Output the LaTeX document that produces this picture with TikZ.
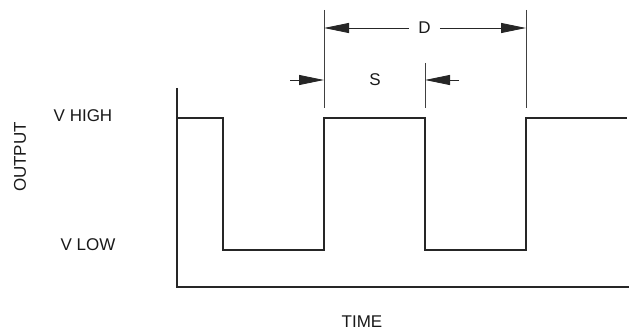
\documentclass[tikz,border=0pt]{standalone}
\usepackage{fontspec}
\setmainfont{Liberation Sans}
\usetikzlibrary{arrows.meta}
\begin{document}
\begin{tikzpicture}[x=1pt,y=-1pt,
  lbl/.style={font=\fontsize{17}{20}\selectfont,inner sep=0pt,text=black!90},
  wave/.style={line width=1.4pt,black!85,line join=miter},
  axis/.style={line width=1.9pt,black!85},
  ext/.style={line width=0.9pt,black!75},
  dim/.style={line width=0.9pt,black!85,-{Triangle[length=25pt,width=10pt]}}]
\useasboundingbox (0,0) rectangle (629,331);
% axes
\coordinate (atop) at (177,88);
\coordinate (aorig) at (177,287);
\coordinate (aend) at (629,287);
\draw[axis] (atop) -- (aorig) -- (aend);
% waveform
\draw[wave] (177,118) -- (223,118) -- (223,250) -- (324,250) -- (324,118) -- (425,118) -- (425,250) -- (526,250) -- (526,118) -- (627,118);
% extension lines
\coordinate (e1t) at (324,10);  \coordinate (e1b) at (324,108);
\coordinate (e2t) at (425,63);  \coordinate (e2b) at (425,108);
\coordinate (e3t) at (526,10);  \coordinate (e3b) at (526,108);
\draw[ext] (e1t) -- (e1b);
\draw[ext] (e2t) -- (e2b);
\draw[ext] (e3t) -- (e3b);
% D dimension
\node[lbl] (D) at (424.5,28) {D};
\coordinate (dl) at (324,28);
\coordinate (dr) at (526,28);
\draw[dim] (D.west) ++(-9,0) -- (dl);
\draw[dim] (D.east) ++(9,0) -- (dr);
% S dimension
\node[lbl] (S) at (375,80) {S};
\coordinate (sl0) at (290,80); \coordinate (sl) at (324,80);
\coordinate (sr0) at (459,80); \coordinate (sr) at (425,80);
\draw[dim] (sl0) -- (sl);
\draw[dim] (sr0) -- (sr);
% labels
\node[lbl] (vh) at (83,116) {V HIGH};
\node[lbl] (vl) at (88,245) {V LOW};
\node[lbl,rotate=90] (out) at (20,157) {OUTPUT};
\node[lbl] (time) at (362,322) {TIME};
\end{tikzpicture}
\end{document}
